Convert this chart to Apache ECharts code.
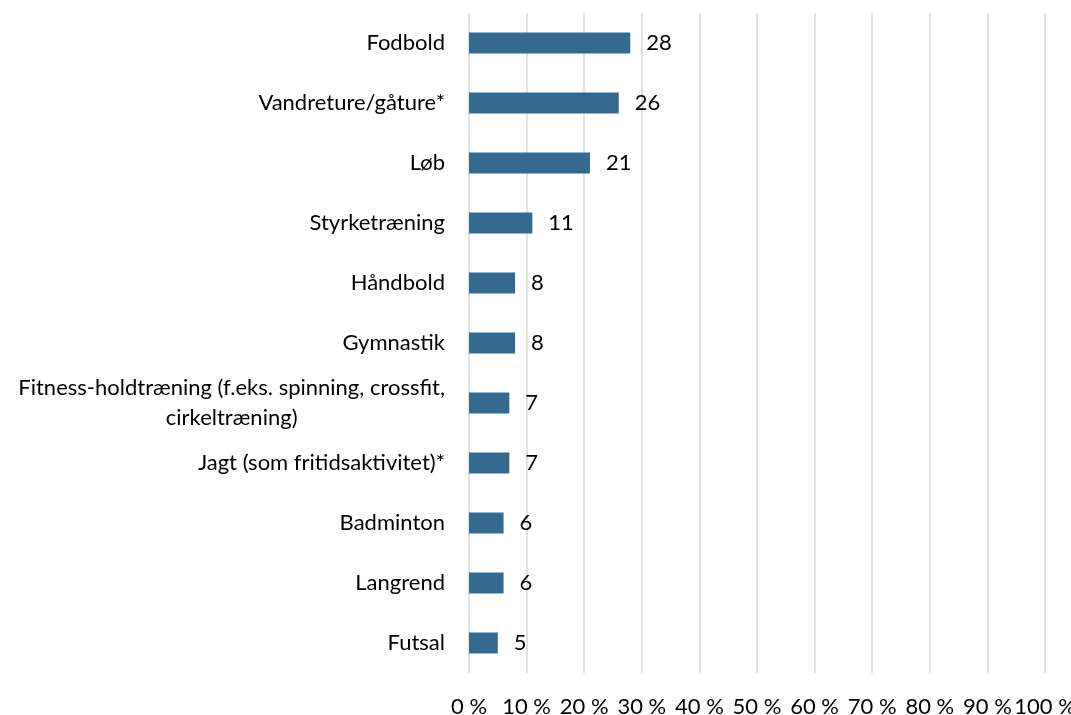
<!DOCTYPE html>
<html>
<head>
<meta charset="utf-8">
<script src="https://cdn.jsdelivr.net/npm/echarts@6/dist/echarts.min.js"></script>
<style>
html,body{margin:0;padding:0;background:#fff;}
#chart{width:1071px;height:715px;}
</style>
</head>
<body>
<div id="chart"></div>
<script>
const categories = [
  "Fodbold",
  "Vandreture/gåture*",
  "Løb",
  "Styrketræning",
  "Håndbold",
  "Gymnastik",
  "Fitness-holdtræning (f.eks. spinning, crossfit,\ncirkeltræning)",
  "Jagt (som fritidsaktivitet)*",
  "Badminton",
  "Langrend",
  "Futsal"
];
const values = [28, 26, 21, 11, 8, 8, 7, 7, 6, 6, 5];
const xTicks = [0, 10, 20, 30, 40, 50, 60, 70, 80, 90, 100];

const FONT = 'Lato';
const FS = 22;
const chart = echarts.init(document.getElementById('chart'), null, {renderer: 'canvas'});
chart.setOption({
  backgroundColor: '#fff',
  animation: false,
  grid: {left: 469, right: 26, top: 13, bottom: 42, containLabel: false, outerBoundsMode: 'none'},
  xAxis: {
    type: 'value',
    min: xTicks[0],
    max: xTicks[xTicks.length - 1],
    interval: 10,
    axisLine: {show: false},
    axisTick: {show: false},
    splitLine: {show: true, lineStyle: {color: '#d9d9d9', width: 1.5}},
    axisLabel: {
      margin: 23,
      fontFamily: FONT,
      fontSize: FS,
      color: '#000',
      hideOverlap: false,
      formatter: v => v + ' %'
    }
  },
  yAxis: {
    type: 'category',
    inverse: true,
    data: categories,
    axisLine: {show: false},
    axisTick: {show: false},
    splitLine: {show: false},
    axisLabel: {
      margin: 24,
      fontFamily: FONT,
      fontSize: FS,
      color: '#000',
      lineHeight: 30,
      formatter: v => v.split('\n').map(l => '{c|' + l + '}').join('\n'),
      rich: {c: {align: 'center', fontFamily: FONT, fontSize: FS, color: '#000', lineHeight: 30}}
    }
  },
  series: [{
    type: 'bar',
    data: values,
    barWidth: 21,
    itemStyle: {color: '#346a90'},
    label: {
      show: true,
      position: 'right',
      distance: 16,
      fontFamily: FONT,
      fontSize: FS,
      color: '#000'
    }
  }]
});
</script>
</body>
</html>
